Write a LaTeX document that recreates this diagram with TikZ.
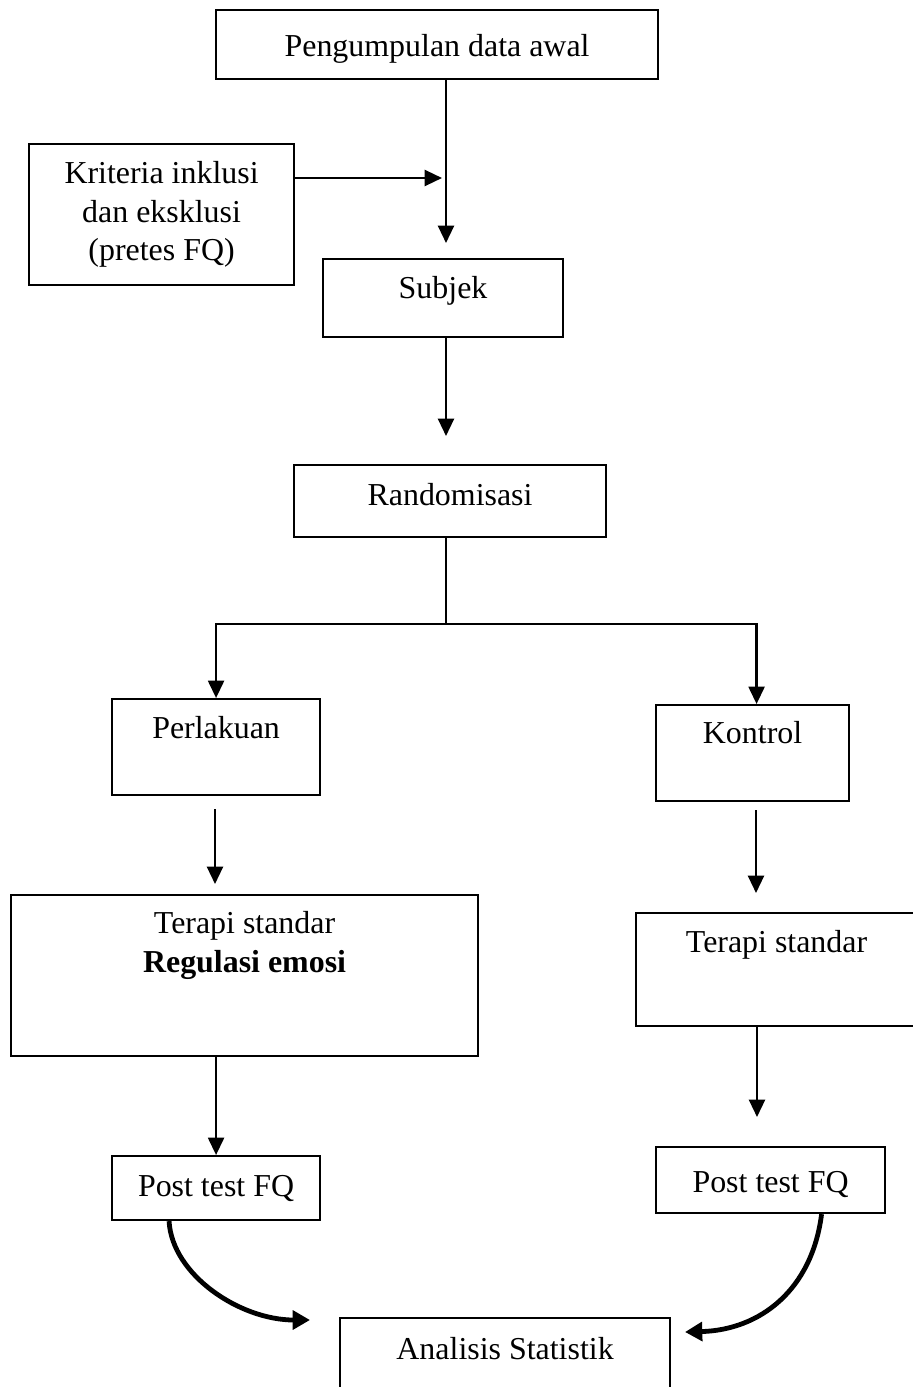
\documentclass[tikz,border=0pt]{standalone}
\usepackage{fontspec}
\setmainfont{Liberation Serif}
\usetikzlibrary{arrows.meta}
\newlength{\px}
\setlength{\px}{0.01322cm}
\tikzset{
  box/.style={draw, line width=0.8pt, anchor=north west, inner sep=0pt,
    align=center, font=\fontsize{12}{14.5}\selectfont},
  arr/.style={line width=0.85pt, -{Triangle[width=6pt,length=6.5pt]}},
  curvearr/.style={line width=1.8pt, -{Triangle[width=7pt,length=6.5pt]}}
}
\begin{document}
\begin{tikzpicture}
    [x=\px,y=-\px]
    \useasboundingbox (0,0) rectangle (912,1387);
    %boxes
    \node[box, minimum width=442\px, text height=46\px, text depth=23\px] (start) at (215,9) {Pengumpulan data awal};
    \node[box, minimum width=265\px, minimum height=141\px] (crit) at (28,143) {Kriteria inklusi\\dan eksklusi\\(pretes FQ)};
    \node[box, minimum width=240\px, text height=39\px, text depth=39\px] (subj) at (322,258) {Subjek};
    \node[box, minimum width=312\px, text height=40\px, text depth=32\px] (rand) at (293,464) {Randomisasi};
    \node[box, minimum width=208\px, text height=39\px, text depth=57\px] (treat) at (111,698) {Perlakuan};
    \node[box, minimum width=193\px, text height=38\px, text depth=58\px] (ctrl) at (655,704) {Kontrol};
    \node[box, minimum width=467\px, text height=77\px, text depth=84\px] (therL) at (10,894) {Terapi standar\\\textbf{Regulasi emosi}};
    \node[box, minimum width=281\px, text height=39\px, text depth=74\px] (therR) at (635,912) {Terapi standar};
    \node[box, minimum width=208\px, text height=40\px, text depth=24\px] (postL) at (111,1155) {Post test FQ};
    \node[box, minimum width=229\px, text height=45\px, text depth=21\px] (postR) at (655,1146) {Post test FQ};
    \node[box, minimum width=330\px, text height=41\px, text depth=40\px] (stat) at (339,1317) {Analisis Statistik};
    %free arrow ends
    \coordinate (m1) at (446,243);
    \coordinate (k1) at (442,178);
    \coordinate (m2) at (446,436);
    \coordinate (split) at (446,624);
    \coordinate (t1) at (215,809);
    \coordinate (t2) at (215,884);
    \coordinate (c1) at (756,810);
    \coordinate (c2) at (756,893);
    \coordinate (r2) at (757,1117);
    \coordinate (sL) at (310,1320);
    \coordinate (sR) at (685,1332);
    %arrows
    \draw[arr] (start.south -| m1) -- (m1);
    \draw[arr] (crit.east |- k1) -- (k1);
    \draw[arr] (subj.south -| m2) -- (m2);
    \draw[line width=0.85pt] (rand.south -| split) -- (split);
    \draw[arr] (split) -| (treat.north);
    \draw[arr] (split) -| ([xshift=4\px]ctrl.north);
    \draw[arr] (t1) -- (t2);
    \draw[arr] (c1) -- (c2);
    \draw[arr] (therL.south -| postL.north) -- (postL.north);
    \draw[arr] (therR.south -| r2) -- (r2);
    %curved arrows to analysis
    \draw[curvearr] ([xshift=-47\px]postL.south) .. controls (172,1275) and (240,1320) .. (sL);
    \draw[curvearr] ([xshift=51\px]postR.south) .. controls (812,1290) and (760,1330) .. (sR);
\end{tikzpicture}
\end{document}
